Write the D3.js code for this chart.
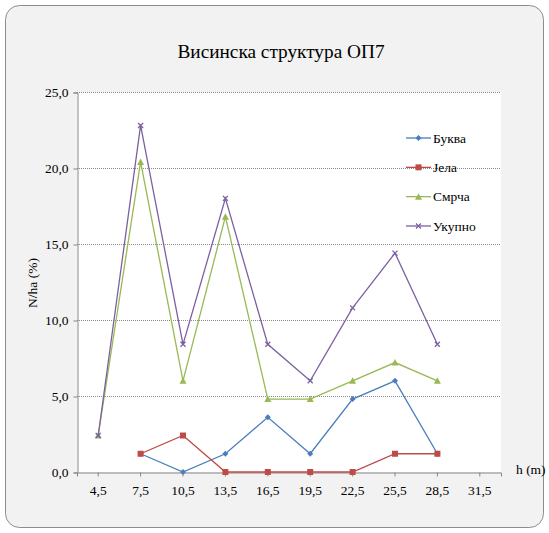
<!DOCTYPE html>
<html><head><meta charset="utf-8">
<script src="https://cdn.jsdelivr.net/npm/d3@7/dist/d3.min.js"></script>
<style>
body{margin:0;background:#fff;} svg{display:block;}
svg text{font-family:"Liberation Serif","Times New Roman","DejaVu Serif",serif;}
</style>
</head><body>
<svg id="chart" width="549" height="533"></svg>
<script>
const categories = ["4,5","7,5","10,5","13,5","16,5","19,5","22,5","25,5","28,5","31,5"];
const bukva  = [null, 1.2, 0.0, 1.2, 3.6, 1.2, 4.8, 6.0, 1.2, null];
const jela   = [null, 1.2, 2.4, 0.0, 0.0, 0.0, 0.0, 1.2, 1.2, null];
const smrca  = [2.4, 20.4, 6.0, 16.8, 4.8, 4.8, 6.0, 7.2, 6.0, null];
const ukupno = [2.4, 22.8, 8.4, 18.0, 8.4, 6.0, 10.8, 14.4, 8.4, null];
const seriesNames = ["Буква","Јела","Смрча","Укупно"];
const yTicks = [0,5,10,15,20,25];
const title = "Висинска структура ОП7";
const yTitle = "N/ha (%)";
const xTitle = "h (m)";

const series = [
  {name: seriesNames[0], values: bukva,  color:"#4a7ebb", sym:"diamond"},
  {name: seriesNames[1], values: jela,   color:"#be4b48", sym:"square"},
  {name: seriesNames[2], values: smrca,  color:"#98b954", sym:"triangle"},
  {name: seriesNames[3], values: ukupno, color:"#7d60a0", sym:"cross"}
];

const svg = d3.select("#chart");
const serif = '"Liberation Serif","Times New Roman","DejaVu Serif",serif';

svg.append("rect").attr("x",5.5).attr("y",5.5).attr("width",538).attr("height",522)
  .attr("rx",14).attr("ry",14).attr("fill","#f2f2f2").attr("stroke","#8c8c8c").attr("stroke-width",1);

const L = 77, R = 501, T = 92, B = 472;
svg.append("rect").attr("x",L).attr("y",T).attr("width",R-L).attr("height",B-T).attr("fill","#fff");

const x = d3.scaleBand().domain(categories).range([L,R]).padding(0);
const xc = c => x(c) + x.bandwidth()/2;
const y = d3.scaleLinear().domain([0,25]).range([B,T]);

svg.append("g").selectAll("line").data(yTicks.filter(d=>d>0)).join("line")
  .attr("x1",L).attr("x2",R).attr("y1",d=>y(d)+0.5).attr("y2",d=>y(d)+0.5)
  .attr("stroke","#8a8a8a").attr("stroke-width",1).attr("stroke-dasharray","1,1");

const yAxis = d3.axisLeft(y).tickValues(yTicks).tickSize(4).tickPadding(5)
  .tickFormat(d => d3.format(".1f")(d).replace(".",","));
const gy = svg.append("g").attr("transform",`translate(${L+0.5},0.5)`).call(yAxis);
gy.attr("font-family",null);
gy.select(".domain").attr("stroke","#868686");
gy.selectAll(".tick line").attr("stroke","#868686");
gy.selectAll(".tick text").style("font-family",serif).style("font-size","13.5px").attr("fill","#000");

const xAxis = d3.axisBottom(x).tickSize(4).tickPadding(9).tickSizeOuter(4);
const gx = svg.append("g").attr("transform",`translate(0,${B+0.5})`).call(xAxis);
gx.attr("font-family",null);
gx.select(".domain").attr("stroke","#868686");
gx.selectAll(".tick line").attr("stroke","#868686");
gx.selectAll(".tick text").style("font-family",serif).style("font-size","13.5px").attr("fill","#000");

svg.append("text").attr("x",281).attr("y",58).attr("text-anchor","middle")
  .style("font-family",serif).style("font-size","19.3px").attr("fill","#000").text(title);
svg.append("text").attr("transform","translate(37,283) rotate(-90)").attr("text-anchor","middle")
  .style("font-family",serif).style("font-size","13.5px").attr("fill","#000").text(yTitle);
svg.append("text").attr("x",516).attr("y",474)
  .style("font-family",serif).style("font-size","13.5px").attr("fill","#000").text(xTitle);

function marker(g, sym, color, cx, cy){
  if(sym==="diamond"){
    g.append("path").attr("d",`M${cx},${cy-3}L${cx+3},${cy}L${cx},${cy+3}L${cx-3},${cy}Z`).attr("fill",color);
  } else if(sym==="square"){
    g.append("rect").attr("x",cx-3).attr("y",cy-3).attr("width",6).attr("height",6).attr("fill",color);
  } else if(sym==="triangle"){
    g.append("path").attr("d",`M${cx},${cy-3.5}L${cx+3.5},${cy+3}L${cx-3.5},${cy+3}Z`).attr("fill",color);
  } else {
    g.append("path").attr("d",`M${cx-2.5},${cy-2.5}L${cx+2.5},${cy+2.5}M${cx-2.5},${cy+2.5}L${cx+2.5},${cy-2.5}`)
      .attr("stroke",color).attr("stroke-width",1.3).attr("fill","none");
  }
}

const line = d3.line().defined(d=>d.v!=null).x(d=>xc(d.c)).y(d=>y(d.v));
series.forEach(s => {
  const pts = categories.map((c,i)=>({c, v:s.values[i]}));
  const g = svg.append("g");
  g.append("path").datum(pts).attr("d",line).attr("fill","none").attr("stroke",s.color).attr("stroke-width",1.3);
  pts.filter(p=>p.v!=null).forEach(p => marker(g, s.sym, s.color, xc(p.c), y(p.v)));
});

const legY = d3.scalePoint().domain(seriesNames).range([138,226]);
series.forEach(s => {
  const ly = legY(s.name);
  const g = svg.append("g");
  g.append("line").attr("x1",406).attr("x2",431).attr("y1",ly).attr("y2",ly).attr("stroke",s.color).attr("stroke-width",1.3);
  marker(g, s.sym, s.color, 418.5, ly);
  g.append("text").attr("x",433).attr("y",ly).attr("dy","0.35em")
    .style("font-family",serif).style("font-size","13.5px").attr("fill","#000").text(s.name);
});
</script>
</body></html>
